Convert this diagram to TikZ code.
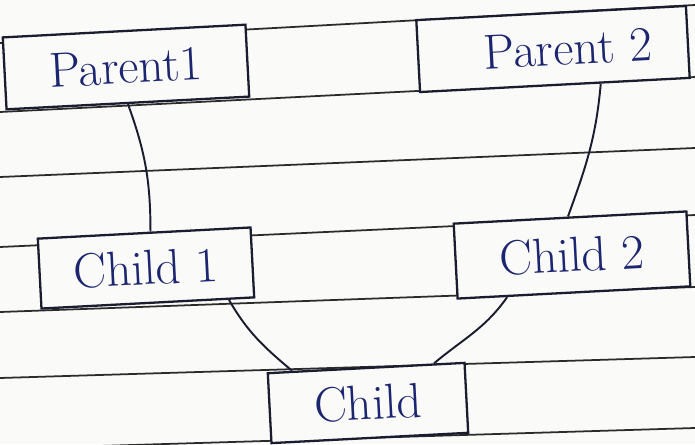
\documentclass[tikz,border=0pt]{standalone}
\usepackage{xcolor}
\definecolor{inkblue}{HTML}{1C2570}
\definecolor{penline}{HTML}{1A1C30}
\definecolor{ruleline}{HTML}{2B2B2B}
\definecolor{paper}{HTML}{FAFAF8}

\begin{document}
\begin{tikzpicture}[
  box/.style={draw=penline,fill=paper,line width=1.3pt,rotate=3,
    text=inkblue,font=\fontsize{28}{30}\selectfont,inner sep=0pt},
  ruled/.style={draw=ruleline,line width=1pt},
  link/.style={draw=penline,line width=1.1pt}]

% Sheet of lined paper
\fill[paper]
  (0,0) rectangle (13.9,-8.88);
\useasboundingbox
  (0,0) rectangle (13.9,-8.88);

\foreach \ya/\yb in {-0.86/-0.10,-2.24/-1.54,-3.54/-2.96,-4.94/-4.30,-6.24/-5.74,-7.56/-7.14,-8.98/-8.56}
  \draw[ruled] (0,\ya) -- (13.9,\yb);

% Parents on the top row
\node[box,minimum width=4.86cm,minimum height=1.44cm] (parent1)
  at (2.52,-1.34) {Parent1};

\node[box,minimum width=5.4cm,minimum height=1.44cm] (parent2)
  at (11.06,-0.98) {\hspace*{0.6cm}Parent 2};

% Children of each parent
\node[box,minimum width=4.26cm,minimum height=1.4cm] (child1)
  at (2.92,-5.36) {Child 1};

\node[box,minimum width=4.66cm,minimum height=1.5cm] (child2)
  at (11.44,-5.1) {Child 2};

% Offspring on the bottom row
\node[box,minimum width=3.94cm,minimum height=1.4cm] (child)
  at (7.36,-8.06) {Child};

% Links between the generations
\draw[link]
  (parent1.south) to[out=-70,in=90] (child1.80);

\draw[link]
  (parent2.-39) to[out=-95,in=70] (child2.93);

\draw[link]
  (child1.-24) to[out=-60,in=140] (child.154);

\draw[link]
  (child2.-150) to[out=-125,in=40] (child.28);

\end{tikzpicture}
\end{document}
